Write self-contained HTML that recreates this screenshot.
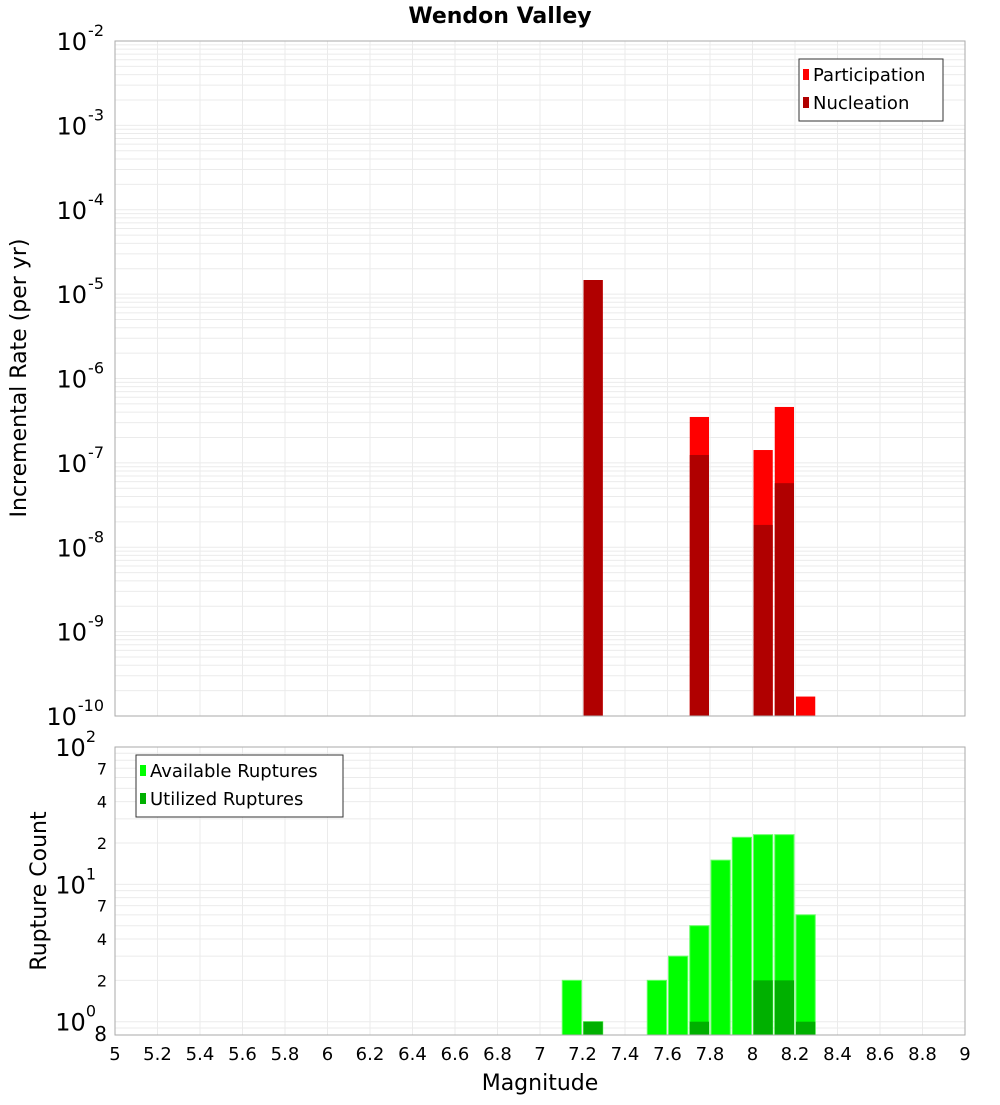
<!DOCTYPE html>
<html><head><meta charset="utf-8"><style>
body{margin:0;background:#fff;width:1000px;height:1100px;overflow:hidden;font-family:"Liberation Sans","DejaVu Sans",sans-serif}
svg text{font-family:"DejaVu Sans","Liberation Sans",sans-serif}
</style></head><body>
<svg id="c" width="1000" height="1100" xmlns="http://www.w3.org/2000/svg"></svg>
<script>
const magBins=[7.2,7.7,8.0,8.1,8.2];
const participation=[1.47e-5,3.5e-7,1.42e-7,4.6e-7,1.7e-10];
const nucleation=[1.47e-5,1.24e-7,1.84e-8,5.75e-8,0];
const countBins=[7.1,7.2,7.5,7.6,7.7,7.8,7.9,8.0,8.1,8.2];
const available=[2,1,2,3,5,15,22,23,23,6];
const utilized=[0,1,0,0,1,0,0,2,2,1];
const xTicks=[5,5.2,5.4,5.6,5.8,6,6.2,6.4,6.6,6.8,7,7.2,7.4,7.6,7.8,8,8.2,8.4,8.6,8.8,9];
const topExps=[-2,-3,-4,-5,-6,-7,-8,-9,-10];
const botMinor=[2,4,7,20,40,70];

const svg=document.getElementById('c');const NS='http://www.w3.org/2000/svg';
function el(t,a,p){const e=document.createElementNS(NS,t);for(const k in a)e.setAttribute(k,a[k]);(p||svg).appendChild(e);return e;}
const L=115,R=965;
const x=m=>L+(m-5)/4*(R-L);
const T1=41,B1=716;const y1=v=>T1+(-2-Math.log10(v))/8*(B1-T1);
const T2=747,B2=1035;const y2=v=>T2+(2-Math.log10(v))/(2-Math.log10(0.8))*(B2-T2);

// title
let t=el('text',{x:500,y:23,'text-anchor':'middle','font-size':22,'font-weight':'bold'});t.textContent='Wendon Valley';


// grids
function grid(T,B,yf,lo,hi){
  for(const m of xTicks){let g=el('line',{x1:x(m),x2:x(m),y1:T,y2:B,stroke:'#ebebeb'});}
  for(let e=lo;e<hi;e++)for(let k=1;k<10;k++){const v=k*Math.pow(10,e);const yy=yf(v);if(yy<T-0.5||yy>B+0.5)continue;
    let g=el('line',{x1:L,x2:R,y1:yy,y2:yy,stroke:'#ebebeb'});}
}
grid(T1,B1,y1,-10,-2);grid(T2,B2,y2,-1,2);

// top bars
const bw=(R-L)/40;
magBins.forEach((m,i)=>{
  let b=el('rect',{x:x(m)+1,y:y1(participation[i]),width:bw-2,height:B1-y1(participation[i]),fill:'#ff0000'});
  
  if(nucleation[i]>0){let n=el('rect',{x:x(m)+1,y:y1(nucleation[i]),width:bw-2,height:B1-y1(nucleation[i]),fill:'#b00000'});
  }
});
// bottom bars
countBins.forEach((m,i)=>{
  let b=el('rect',{x:x(m)+1,y:y2(available[i]),width:bw-2,height:B2-y2(available[i]),fill:'#00ff00',stroke:'#66ff66','stroke-width':1});
  
  if(utilized[i]>0){let n=el('rect',{x:x(m)+1,y:y2(utilized[i]),width:bw-2,height:B2-y2(utilized[i]),fill:'#00b000'});
  }
});

// frames
for(const [T,B,n] of [[T1,B1,'top-plot-frame'],[T2,B2,'bottom-plot-frame']]){let f=el('rect',{x:L,y:T,width:R-L,height:B-T,fill:'none',stroke:'#aaa'});}

// top y labels
topExps.forEach(e=>{const yy=y1(Math.pow(10,e));
  let g=el('text',{x:104,y:yy+9,'text-anchor':'end','font-size':24});
  g.textContent='10';let s=el('tspan',{dy:-14,'font-size':16},g);s.textContent=String(e);s.setAttribute('dx','1');
});
// bottom y labels
[[2,100],[1,10],[0,1]].forEach(([e,v])=>{const yy=y2(v);
  let g=el('text',{x:96,y:yy+9,'text-anchor':'end','font-size':24});
  g.textContent='10';let s=el('tspan',{dy:-14,'font-size':16},g);s.textContent=String(e);
});
botMinor.forEach(v=>{let g=el('text',{x:107,y:y2(v)+6,'text-anchor':'end','font-size':16});g.textContent=String(v).charAt(0);});
let e8=el('text',{x:107,y:1041,'text-anchor':'end','font-size':20});e8.textContent='8';

// x labels
xTicks.forEach(m=>{let g=el('text',{x:x(m),y:1060,'text-anchor':'middle','font-size':18});g.textContent=String(m);});
let xt=el('text',{x:540,y:1090,'text-anchor':'middle','font-size':22});xt.textContent='Magnitude';
let yt=el('text',{x:0,y:0,'text-anchor':'middle','font-size':22,transform:'translate(26,378) rotate(-90)'});yt.textContent='Incremental Rate (per yr)';
let yb=el('text',{x:0,y:0,'text-anchor':'middle','font-size':22,transform:'translate(46,891) rotate(-90)'});yb.textContent='Rupture Count';

// legends
function legend(lx,ly,w,items,name){const g=el('g',{});
  el('rect',{x:lx,y:ly,width:w,height:items.length*28+6,fill:'#fff',stroke:'#333'},g);
  items.forEach(([c,lab],i)=>{el('rect',{x:lx+4,y:ly+10+i*28,width:6,height:11,fill:c},g);
    const tt=el('text',{x:lx+14,y:ly+22+i*28,'font-size':18},g);tt.textContent=lab;});}
legend(799,59,144,[['#ff0000','Participation'],['#b00000','Nucleation']],'top-legend');
legend(136,755,207,[['#00ff00','Available Ruptures'],['#00b000','Utilized Ruptures']],'bottom-legend');
</script>
</body></html>
